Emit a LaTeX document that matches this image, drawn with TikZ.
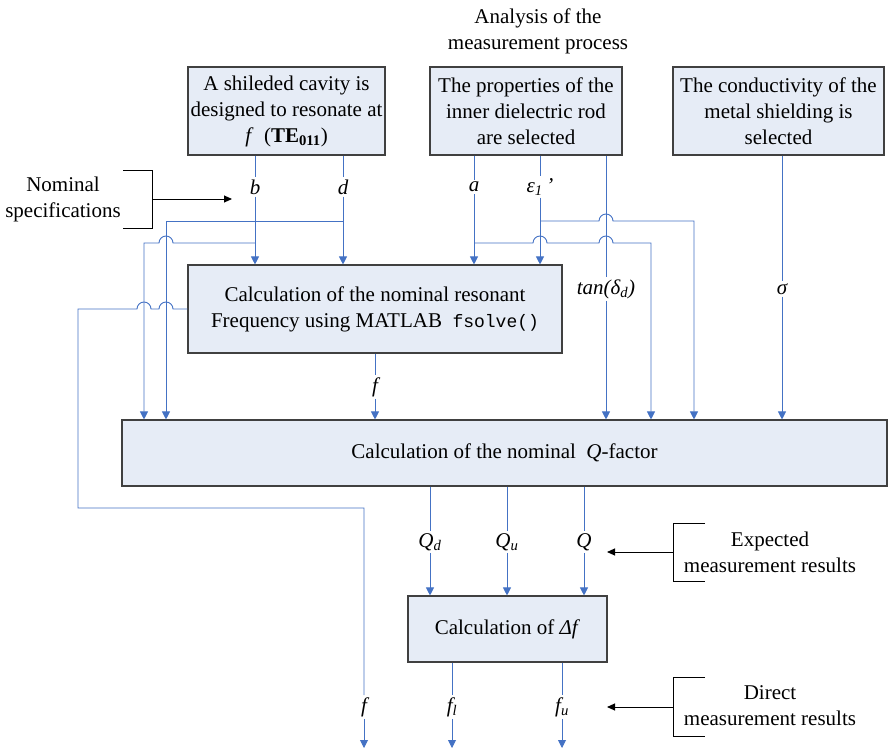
\documentclass[tikz,border=0pt]{standalone}
\usepackage{fontspec}
\setmainfont{Liberation Serif}
\setmonofont{Liberation Mono}
\usetikzlibrary{arrows.meta}
\definecolor{wireblue}{RGB}{68,114,196}
\definecolor{boxfill}{RGB}{230,236,246}
\definecolor{boxline}{RGB}{64,64,64}
\begin{document}
\begin{tikzpicture}[x=1pt,y=1pt,
  font=\fontsize{21}{26}\selectfont,
  procbox/.style={draw=boxline,fill=boxfill,line width=1.1pt,align=center,inner sep=0pt,anchor=center},
  wire/.style={draw=wireblue,line width=0.9pt},
  wirearrow/.style={wire,-{Triangle[length=8pt,width=8pt]}},
  lbl/.style={inner sep=2pt,font=\fontsize{21}{26}\selectfont\itshape},
  brk/.style={draw=black,line width=1pt},
  brkarrow/.style={brk,-{Triangle[length=8pt,width=7pt]}},
  note/.style={align=center,inner sep=0pt}
]
\useasboundingbox (0,0) rectangle (888,-749);

% heading
\node[note] (head) at (538,-31) {Analysis of the\\measurement process};

% boxes
\node[procbox,minimum width=197pt,minimum height=88pt] (A) at (286.5,-111)
  {A shileded cavity is\\designed to resonate at\\\textit{f}\ \ (\textbf{TE\textsubscript{011}})};
\node[procbox,minimum width=192pt,minimum height=88pt] (B) at (526,-111)
  {The properties of the\\inner dielectric rod\\are selected};
\node[procbox,minimum width=211pt,minimum height=88pt] (C) at (778.5,-111)
  {The conductivity of the\\metal shielding is\\selected};
\node[procbox,minimum width=374pt,minimum height=88pt] (M) at (375,-309)
  {Calculation of the nominal resonant\\Frequency using MATLAB\ \ {\fontsize{18}{26}\selectfont\ttfamily fsolve()}};
\node[procbox,minimum width=765pt,minimum height=66pt] (Q) at (504.5,-453)
  {Calculation of the nominal\ \ \textit{Q}-factor};
\node[procbox,minimum width=199pt,minimum height=66pt] (D) at (507.5,-629)
  {Calculation of \textit{Δf}};

% labels
\node[lbl] (nb) at (255,-187) {b};
\node[lbl] (nd) at (343,-187) {d};
\node[lbl] (na) at (474,-187) {a};
\node[lbl] (ne) at (540,-187) {ε\textsubscript{1}\,’};
\node[lbl] (ntan) at (606,-289) {tan(δ\textsubscript{d})};
\node[lbl] (nsig) at (782,-289) {σ};
\node[lbl] (nf) at (375,-387) {f};
\node[lbl] (nqd) at (430,-542) {Q\textsubscript{d}};
\node[lbl] (nqu) at (507,-542) {Q\textsubscript{u}};
\node[lbl] (nq) at (584,-542) {Q};
\node[lbl] (nfo) at (364,-707) {f};
\node[lbl] (nfl) at (452,-707) {f\textsubscript{l}};
\node[lbl] (nfu) at (562,-707) {f\textsubscript{u}};

% helper coordinates
\coordinate (jb) at (255,-243);
\coordinate (jd) at (343,-221);
\coordinate (ja) at (474,-243);
\coordinate (je) at (540,-221);
\coordinate (xb) at (144,0);
\coordinate (xd) at (166,0);
\coordinate (xa) at (651,0);
\coordinate (xe) at (694,0);
\coordinate (xo) at (78,0);
\coordinate (turn) at (78,-508);
\coordinate (turn2) at (364,-508);
\coordinate (bot) at (0,-748);

% vertical feeds with labels
\draw[wire] (A.south -| nb) -- (nb);   \draw[wirearrow] (nb) -- (M.north -| nb);
\draw[wire] (A.south -| nd) -- (nd);   \draw[wirearrow] (nd) -- (M.north -| nd);
\draw[wire] (B.south -| na) -- (na);   \draw[wirearrow] (na) -- (M.north -| na);
\draw[wire] (B.south -| ne) -- (ne);   \draw[wirearrow] (ne) -- (M.north -| ne);
\draw[wire] (B.south -| ntan) -- (ntan); \draw[wirearrow] (ntan) -- (Q.north -| ntan);
\draw[wire] (C.south -| nsig) -- (nsig); \draw[wirearrow] (nsig) -- (Q.north -| nsig);
\draw[wire] (M.south -| nf) -- (nf);   \draw[wirearrow] (nf) -- (Q.north -| nf);
\draw[wire] (Q.south -| nqd) -- (nqd); \draw[wirearrow] (nqd) -- (D.north -| nqd);
\draw[wire] (Q.south -| nqu) -- (nqu); \draw[wirearrow] (nqu) -- (D.north -| nqu);
\draw[wire] (Q.south -| nq) -- (nq);   \draw[wirearrow] (nq) -- (D.north -| nq);
\draw[wire] (D.south -| nfl) -- (nfl); \draw[wirearrow] (nfl) -- (nfl |- bot);
\draw[wire] (D.south -| nfu) -- (nfu); \draw[wirearrow] (nfu) -- (nfu |- bot);

% branches with jumps
\draw[wirearrow] (jb) -- (173,-243) arc[start angle=0,end angle=180,radius=7]
  -- (jb -| xb) -- (Q.north -| xb);
\draw[wirearrow] (jd) -- (jd -| xd) -- (Q.north -| xd);
\draw[wirearrow] (ja) -- (533,-243) arc[start angle=180,end angle=0,radius=7]
  -- (599,-243) arc[start angle=180,end angle=0,radius=7]
  -- (ja -| xa) -- (Q.north -| xa);
\draw[wirearrow] (je) -- (599,-221) arc[start angle=180,end angle=0,radius=7]
  -- (je -| xe) -- (Q.north -| xe);
\draw[wire] (M.west) -- (173,-309) arc[start angle=0,end angle=180,radius=7]
  -- (151,-309) arc[start angle=0,end angle=180,radius=7]
  -- (M.west -| xo) -- (turn) -- (turn2) -- (nfo);
\draw[wirearrow] (nfo) -- (nfo |- bot);

% brackets
\node[note] (nomtxt) at (63,-199) {Nominal\\specifications};
\coordinate (nomA) at (123,-170);
\coordinate (nomB) at (152,-170);
\coordinate (nomC) at (152,-228);
\coordinate (nomD) at (123,-228);
\coordinate (nomM) at (152,-199);
\coordinate (nomT) at (232,-199);
\draw[brk] (nomA) -- (nomB) -- (nomC) -- (nomD);
\draw[brkarrow] (nomM) -- (nomT);

\node[note] (exptxt) at (770,-552) {Expected\\measurement results};
\coordinate (expA) at (705,-523);
\coordinate (expB) at (673,-523);
\coordinate (expC) at (673,-581);
\coordinate (expD) at (705,-581);
\coordinate (expM) at (673,-552);
\coordinate (expT) at (607,-552);
\draw[brk] (expA) -- (expB) -- (expC) -- (expD);
\draw[brkarrow] (expM) -- (expT);

\node[note] (dirtxt) at (770,-706) {Direct\\measurement results};
\coordinate (dirA) at (705,-677);
\coordinate (dirB) at (673,-677);
\coordinate (dirC) at (673,-736);
\coordinate (dirD) at (705,-736);
\coordinate (dirM) at (673,-707);
\coordinate (dirT) at (607,-707);
\draw[brk] (dirA) -- (dirB) -- (dirC) -- (dirD);
\draw[brkarrow] (dirM) -- (dirT);
\end{tikzpicture}
\end{document}
